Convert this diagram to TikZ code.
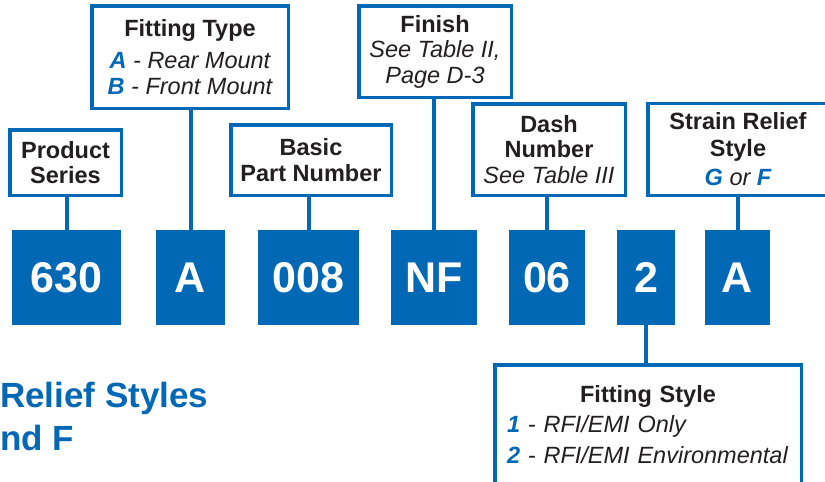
\documentclass[tikz,border=0pt]{standalone}
\usepackage{fontspec}
\setmainfont{Liberation Sans}
\usepackage{xcolor}
\definecolor{partblue}{RGB}{0,104,180}
\definecolor{ink}{RGB}{35,31,32}
\tikzstyle{labelbox} = [rectangle, draw=partblue, line width=3.5pt, fill=white,
                        text centered, align=center, inner sep=0pt, text=ink]
\tikzstyle{codebox}  = [rectangle, fill=partblue, text=white, minimum height=95pt,
                        inner sep=0pt, font=\fontsize{43}{43}\selectfont\bfseries]
\tikzstyle{link}     = [partblue, line width=4pt]
\newcommand{\opt}[1]{\textcolor{partblue}{\bfseries #1}}

\begin{document}
\begin{tikzpicture}[x=1pt, y=-1pt, every node/.style={font=\fontsize{23.5}{25.5}\selectfont}]
  \useasboundingbox (0,0) rectangle (825,482);

  % Part number codes
  \node (c630) [codebox, minimum width=109pt] at (66.5, 277.5)  {630};
  \node (cA)   [codebox, minimum width=69pt]  at (190.5, 277.5) {A};
  \node (c008) [codebox, minimum width=101pt] at (308.5, 277.5) {008};
  \node (cNF)  [codebox, minimum width=86pt]  at (434, 277.5)   {NF};
  \node (c06)  [codebox, minimum width=76pt]  at (547, 277.5)   {06};
  \node (c2)   [codebox, minimum width=58pt]  at (646, 277.5)   {2};
  \node (cSR)  [codebox, minimum width=65pt]  at (737.5, 277.5) {A};

  % Labels
  \node (series) [labelbox, minimum width=111.5pt, minimum height=65.5pt] at (65.5, 162.5)
        {\bfseries Product\\\bfseries Series};
  \node (ftype)  [labelbox, minimum width=196.5pt, minimum height=102.5pt] at (190, 57)
        {\bfseries Fitting Type\\[7pt]\itshape\opt{A} - Rear Mount\\\itshape\opt{B} - Front Mount};
  \node (basic)  [labelbox, minimum width=160.5pt, minimum height=70.5pt] at (311, 160)
        {\bfseries Basic\\\bfseries Part Number};
  \node (finish) [labelbox, minimum width=152.5pt, minimum height=91.5pt] at (435, 51.5)
        {\bfseries Finish\\\itshape See Table II,\\\itshape Page D-3};
  \node (dash)   [labelbox, minimum width=152.5pt, minimum height=91.5pt] at (549, 149.5)
        {\bfseries Dash\\\bfseries Number\\\itshape See Table III};
  \node (strain) [labelbox, minimum width=180.5pt, minimum height=92pt] at (738, 149.25)
        {\bfseries Strain Relief\\[1pt]\bfseries Style\\[4pt]\itshape\opt{G} or \opt{F}};
  \node (fstyle) [labelbox, minimum width=306.5pt, minimum height=119.5pt, text width=282pt,
                  align=left] at (648, 424.5)
        {\makebox[282pt][c]{\bfseries Fitting Style}\\[5pt]
         \mbox{\itshape\opt{1} - RFI/EMI Only}\\[5pt]
         \mbox{\itshape\opt{2} - RFI/EMI Environmental}};

  % Heading (cut off)
  \node (heading) [anchor=base west, align=left, inner sep=0pt, text=partblue,
                   font=\fontsize{35}{43}\selectfont\bfseries] at (0, 450)
        {Relief Styles\\nd F};

  % Connectors
  \draw[link] (series.south -| c630.north) -- (c630.north);
  \draw[link] (ftype.south -| cA.north) -- (cA.north);
  \draw[link] (basic.south -| c008.north) -- (c008.north);
  \draw[link] (finish.south -| cNF.north) -- (cNF.north);
  \draw[link] (dash.south -| c06.north) -- (c06.north);
  \draw[link] (strain.south -| cSR.north) -- (cSR.north);
  % 2 -> Fitting Style
  \draw[link] (c2.south) -- (c2.south |- fstyle.north);

\end{tikzpicture}
\end{document}
